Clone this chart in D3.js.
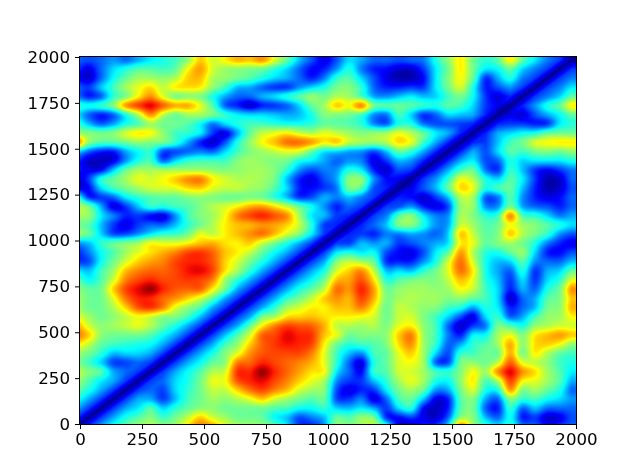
<!DOCTYPE html>
<html><head><meta charset="utf-8">
<script src="https://cdn.jsdelivr.net/npm/d3@7/dist/d3.min.js"></script>
<style>
html,body{margin:0;padding:0;background:#fff;overflow:hidden}
#wrap{position:relative;width:640px;height:476px}
canvas,svg{position:absolute;left:0;top:0}
</style></head><body><div id="wrap"><canvas id="c" width="640" height="476"></canvas><svg id="s" width="640" height="476"></svg></div>
<script>
const xTicks=[0,250,500,750,1000,1250,1500,1750,2000];
const yTicks=[0,250,500,750,1000,1250,1500,1750,2000];
const gridStep=50, gridOrigin=-15;
// lower triangle of the symmetric matrix
const rows=[
[1],
[14,1],
[24,14,1],
[34,24,14,1],
[42,34,24,14,1],
[50,40,30,24,14,1],
[54,46,40,24,18,14,1],
[46,38,28,15,15,18,14,1],
[50,44,36,26,28,28,24,14,1],
[64,54,42,38,36,34,32,24,14,1],
[78,66,48,44,44,44,40,32,24,14,1],
[72,56,48,50,54,58,52,42,34,24,14,1],
[58,50,44,48,54,60,56,48,46,38,26,14,1],
[52,44,44,52,66,82,86,76,58,48,40,24,14,1],
[50,44,44,58,78,88,88,80,74,66,56,42,24,14,1],
[48,42,44,66,84,92,98,88,82,80,80,62,44,24,14,1],
[42,32,40,56,76,84,88,84,84,86,84,76,50,36,24,14,1],
[30,26,38,50,68,76,80,80,84,90,92,84,64,50,36,24,14,1],
[14,16,32,44,56,66,72,76,84,88,88,82,66,56,44,34,24,14,1],
[12,20,32,40,50,58,64,70,76,84,86,80,68,62,54,42,32,24,14,1],
[22,26,36,42,46,50,60,58,58,62,68,70,64,62,66,54,44,34,24,14,1],
[48,42,28,16,16,22,30,36,38,44,58,54,62,68,74,78,68,56,46,30,14,1],
[44,40,26,14,8,14,18,18,26,36,44,52,62,68,70,74,72,66,54,34,14,12,1],
[50,48,30,20,12,14,10,8,22,38,46,50,60,76,84,88,82,74,50,30,25,14,12,1],
[54,44,24,8,14,26,36,34,38,40,46,52,56,62,70,72,64,54,42,32,22,12,18,14,1],
[38,14,14,18,30,36,40,42,42,46,48,46,44,44,46,44,36,26,14,16,24,20,26,20,14,1],
[8,10,28,38,44,50,55,56,58,64,66,58,54,54,50,48,40,28,12,10,14,20,44,40,16,12,1],
[5,14,34,42,50,58,56,60,66,74,76,62,56,52,52,50,44,26,12,8,16,24,46,46,22,10,8,1],
[12,8,10,26,42,50,50,50,50,50,50,48,46,48,50,50,46,36,22,16,20,22,34,30,12,6,16,14,1],
[14,6,5,8,22,34,38,18,28,36,38,38,38,46,50,48,46,44,34,30,24,18,22,20,8,14,25,22,12,1],
[30,18,12,12,24,32,36,16,16,18,20,18,28,38,46,50,54,58,56,42,30,28,24,22,16,26,42,36,24,12,1],
[78,48,40,40,44,48,46,44,36,24,12,6,16,34,48,60,68,78,78,72,62,66,54,50,48,52,64,58,38,24,12,1],
[50,46,44,46,56,62,60,48,38,36,30,14,8,24,42,54,58,62,56,52,58,54,50,46,48,50,58,52,42,30,24,12,1],
[38,26,18,24,34,40,50,44,44,40,32,20,28,34,38,38,36,34,34,36,42,42,40,36,22,18,34,34,20,16,16,14,12,1],
[30,18,12,18,34,52,74,54,44,50,50,44,36,30,28,28,26,24,26,34,46,46,44,38,22,20,38,28,14,18,28,26,24,12,1],
[36,32,36,46,72,84,92,80,70,70,58,40,18,12,6,12,14,18,28,42,50,66,60,74,44,40,42,40,36,34,40,38,28,14,8,1],
[20,12,18,36,46,62,74,58,46,48,46,34,24,18,18,24,28,34,40,48,44,52,50,40,24,22,26,30,26,28,38,44,32,14,6,12,1],
[18,14,26,38,50,58,64,54,62,64,62,48,38,26,24,18,14,14,22,28,34,44,46,36,18,12,12,14,14,30,44,56,34,12,16,22,14,1],
[10,6,18,32,42,50,50,48,52,66,68,52,48,44,40,34,28,24,18,12,20,36,40,28,16,8,4,4,10,30,46,60,42,14,24,34,20,14,1],
[14,8,18,28,34,40,40,38,42,60,72,56,50,48,46,44,36,28,18,10,12,22,34,20,12,10,6,6,14,30,44,62,44,30,32,42,28,20,14,1],
[18,16,18,22,18,24,30,34,38,48,66,56,62,70,68,74,58,42,26,16,8,16,28,24,18,18,16,18,20,34,48,62,44,36,42,62,42,30,20,14,1]
];
const plot={left:80,right:576,top:57,bottom:424};
const x=d3.scaleLinear().domain([0,2000]).range([plot.left,plot.right]);
const y=d3.scaleLinear().domain([0,2000]).range([plot.bottom,plot.top]);
const jet=d3.scaleLinear()
  .domain([0,.11,.125,.35,.375,.64,.66,.89,.91,1])
  .range(["#000080","#0000f1","#0000ff","#00e5ff","#00ffff","#ffff00","#ffe600","#ff1a00","#f10800","#800000"])
  .clamp(true);
const norm=d3.scaleLinear().domain([0,14,30,40,50,60,70,85,100]).range([0,.18,.36,.46,.54,.63,.72,.85,1]);
const clampIdx=k=>Math.max(0,Math.min(40,k));
const val=(i,j)=>{i=clampIdx(i);j=clampIdx(j);return i>=j?rows[i][j]:rows[j][i];};
const cr=(a,b,c,d,t)=>b+.5*t*(c-a+t*(2*a-5*b+4*c-d+t*(3*(b-c)+d-a)));
function tri(i0,j0,fx,fy){
  const v00=val(i0,j0),vxy=val(i0+1,j0+1);
  if(fx>=fy){const vx=val(i0,j0+1);return v00+fx*(vx-v00)+fy*(vxy-vx);}
  const vy=val(i0+1,j0);return v00+fy*(vy-v00)+fx*(vxy-vy);
}
function cubic(i0,j0,fx,fy){
  const r=[-1,0,1,2].map(di=>cr(val(i0+di,j0-1),val(i0+di,j0),val(i0+di,j0+1),val(i0+di,j0+2),fx));
  return cr(r[0],r[1],r[2],r[3],fy);
}
function sample(dx,dy){
  const gx=Math.min(Math.max((dx-gridOrigin)/gridStep,0),40),gy=Math.min(Math.max((dy-gridOrigin)/gridStep,0),40);
  const j0=Math.min(Math.floor(gx),39),i0=Math.min(Math.floor(gy),39),fx=gx-j0,fy=gy-i0;
  const t=Math.max(0,Math.min(1,(Math.abs(dx-dy)-60)/100));
  if(t===0)return tri(i0,j0,fx,fy);
  const c=cubic(i0,j0,fx,fy);
  if(t===1)return c;
  return tri(i0,j0,fx,fy)*(1-t)+c*t;
}
const ctx=document.getElementById('c').getContext('2d');
ctx.fillStyle='#fff';ctx.fillRect(0,0,640,476);
for(let py=plot.top;py<plot.bottom;py++){
  for(let px=plot.left;px<plot.right;px++){
    ctx.fillStyle=jet(norm(sample(x.invert(px+.5),y.invert(py+.5))));
    ctx.fillRect(px,py,1,1);
  }
}
const svg=d3.select('#s');
const fmt=d3.format('d');
svg.append('g').attr('transform',`translate(0,${plot.bottom})`)
  .call(d3.axisBottom(x).tickValues(xTicks).tickFormat(fmt).tickSize(5).tickPadding(4));
svg.append('g').attr('transform',`translate(${plot.left},0)`)
  .call(d3.axisLeft(y).tickValues(yTicks).tickFormat(fmt).tickSize(5).tickPadding(5));
svg.selectAll('.domain').remove();
svg.selectAll('.tick line').attr('stroke','#000').attr('stroke-width',1);
svg.selectAll('text').attr('font-family','DejaVu Sans').attr('font-size',16.67).attr('fill','#000');
svg.append('rect').attr('x',x(0)-.5).attr('y',y(2000)-.5).attr('width',x(2000)-x(0)+1).attr('height',y(0)-y(2000)+1)
  .attr('fill','none').attr('stroke','#000').attr('stroke-width',1);
</script></body></html>
